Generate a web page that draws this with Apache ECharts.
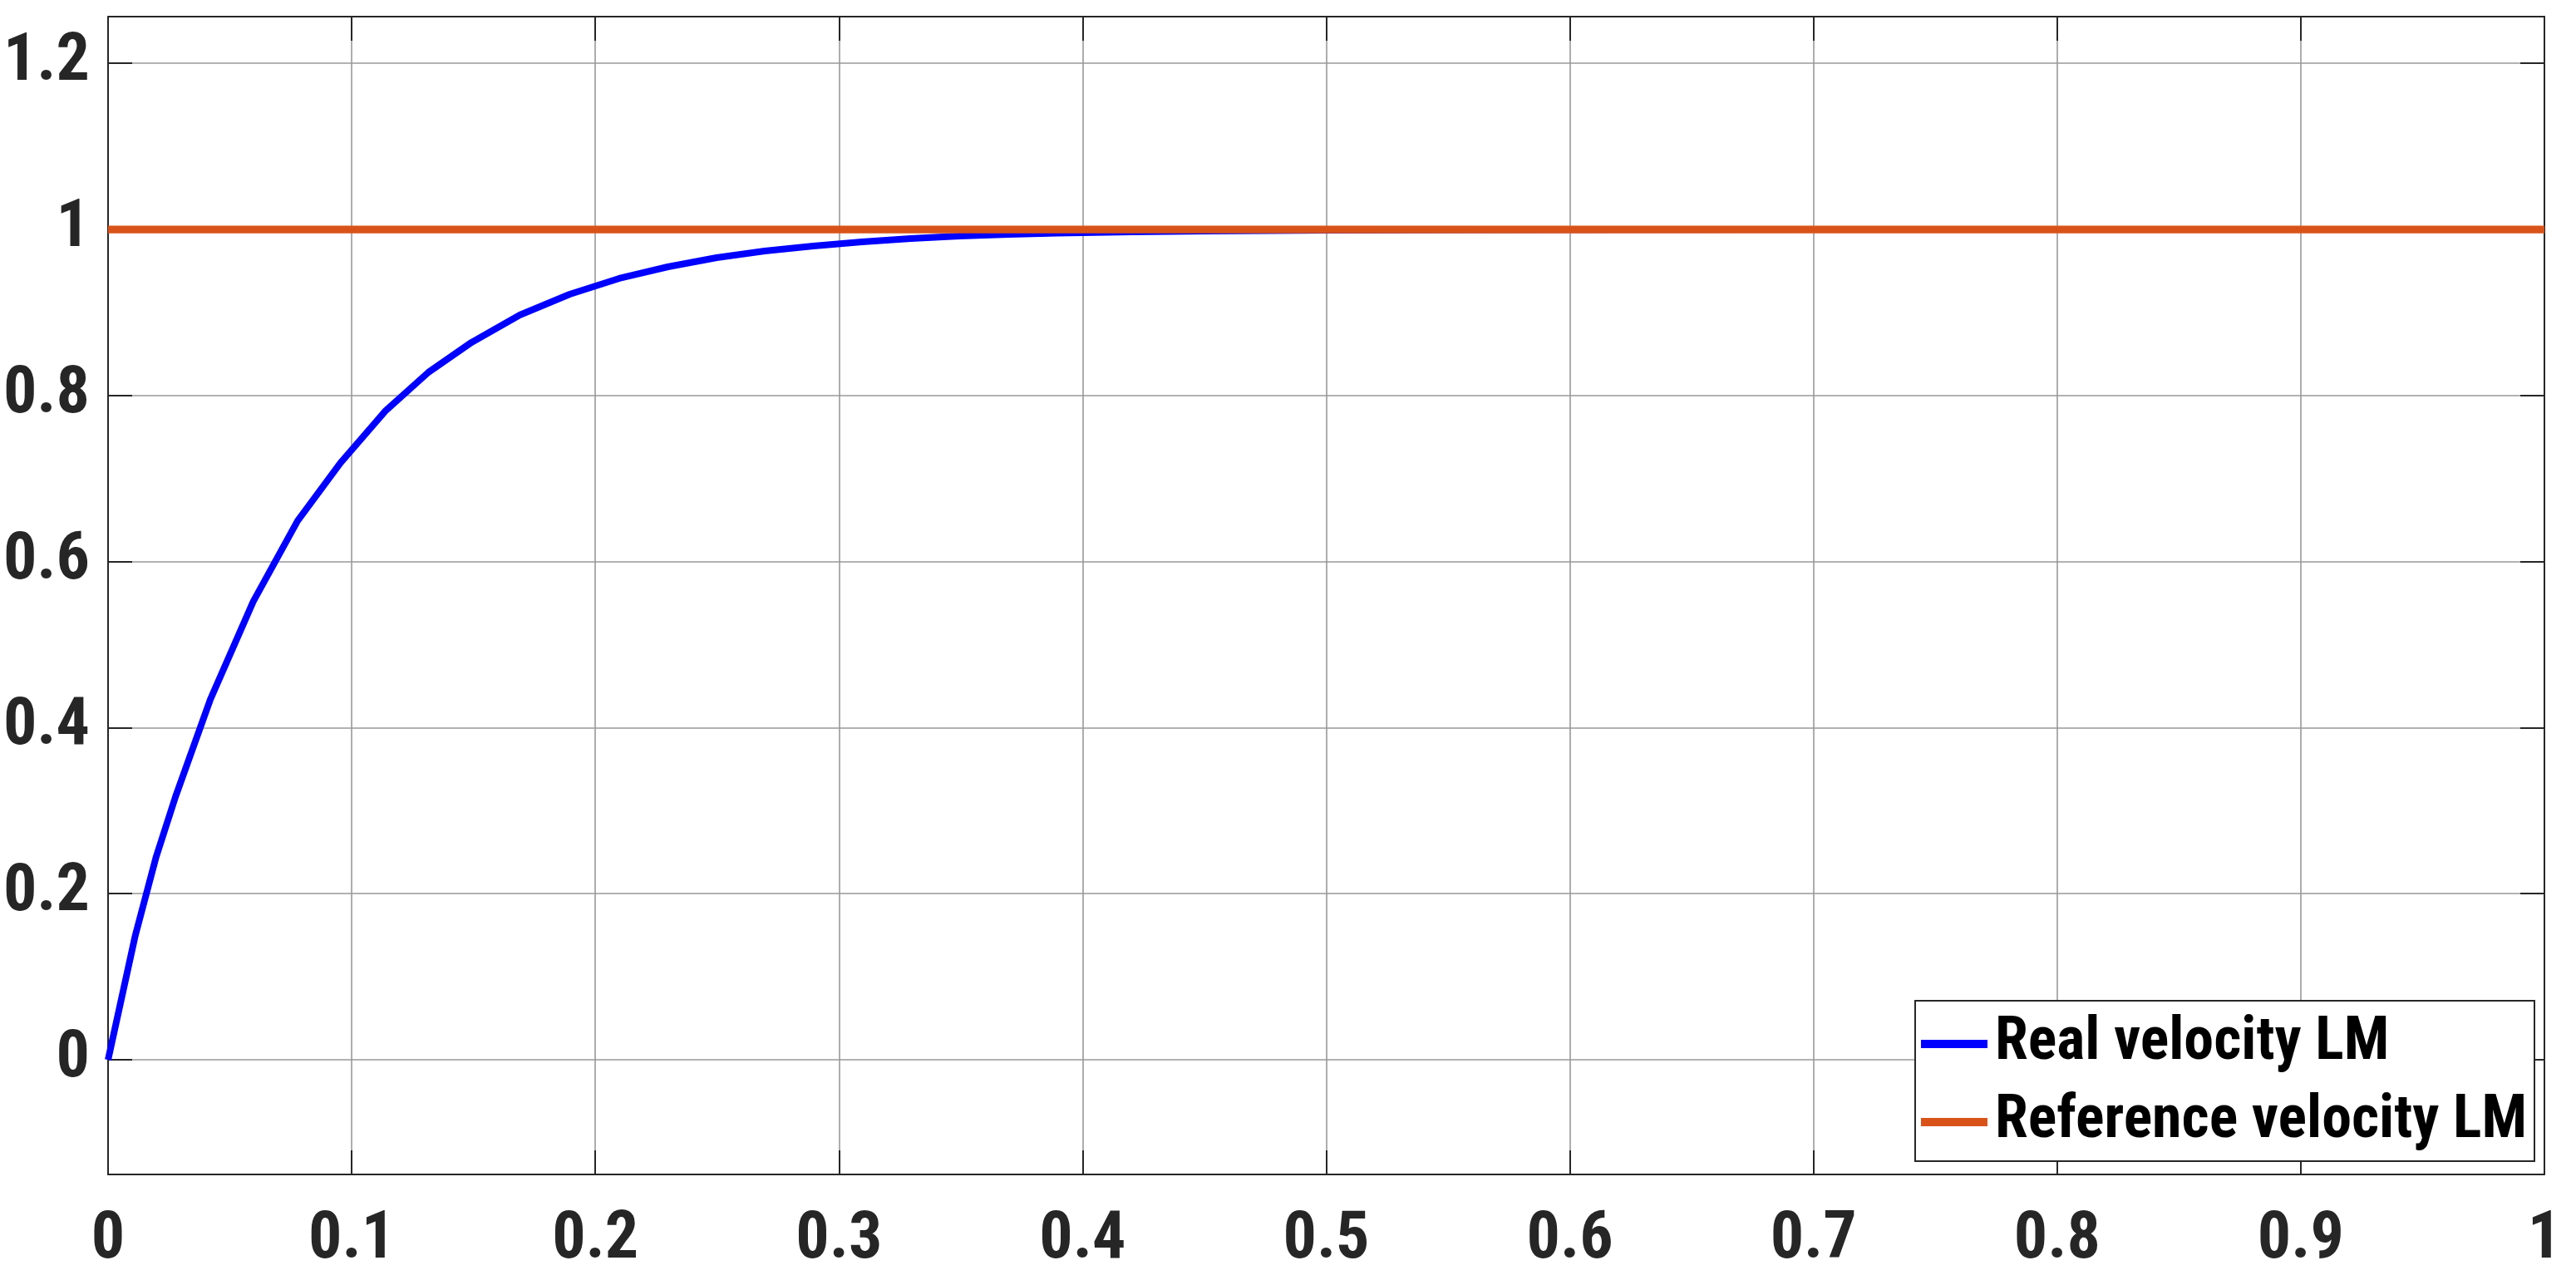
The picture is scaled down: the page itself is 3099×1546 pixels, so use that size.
<!DOCTYPE html>
<html>
<head>
<meta charset="utf-8">
<style>
html,body{margin:0;padding:0;background:#fff;}
#chart{width:3099px;height:1546px;}
</style>
<script src="https://cdn.jsdelivr.net/npm/echarts@6/dist/echarts.min.js"></script>
</head>
<body>
<div id="chart"></div>
<script>
// ---- data ----
const timeRealX = [0, 0.0112, 0.0197, 0.0277, 0.042, 0.0596, 0.0778, 0.0954, 0.1137, 0.1315, 0.1492, 0.169, 0.1895, 0.2098, 0.2298, 0.2498, 0.2695, 0.2895, 0.3095, 0.3295, 0.3495, 0.3695, 0.3895, 0.42, 0.45, 0.5, 0.55, 0.6, 0.7, 0.8, 0.9, 1.0];
const realVelocity = [0, 0.15, 0.244, 0.317, 0.434, 0.552, 0.649, 0.719, 0.781, 0.828, 0.864, 0.897, 0.922, 0.941, 0.955, 0.966, 0.974, 0.980, 0.985, 0.989, 0.992, 0.994, 0.9955, 0.997, 0.998, 0.999, 0.9995, 0.9998, 1.0, 1.0, 1.0, 1.0];
const timeRefX = [0, 1];
const refVelocity = [1, 1];
const yTicks = [0, 0.2, 0.4, 0.6, 0.8, 1.0, 1.2];
const seriesNames = ['Real velocity LM', 'Reference velocity LM'];

// pick a narrow bold font if one is installed
function fontAvailable(name) {
  const c = document.createElement('canvas').getContext('2d');
  const s = 'Reference velocity LM 0.123456789';
  c.font = 'bold 72px monospace';
  const w1 = c.measureText(s).width;
  c.font = "bold 72px '" + name + "', monospace";
  const w2 = c.measureText(s).width;
  return Math.abs(w1 - w2) > 0.5;
}
const narrowCandidates = ['Liberation Sans Narrow', 'Arial Narrow', 'Noto Sans Condensed', 'Roboto Condensed', 'Open Sans Condensed', 'Nimbus Sans Narrow'];
let narrow = null;
for (const f of narrowCandidates) { if (fontAvailable(f)) { narrow = f; break; } }
const FONT = narrow ? "'" + narrow + "', sans-serif" : "'DejaVu Sans Condensed', 'DejaVu Sans', sans-serif";
const tickFontSize = narrow ? 80 : 69;
const legendFontSize = narrow ? 72 : 58;

const DARK = '#262626';
const GRID = '#999999';
const fmt = v => String(+(+v).toFixed(2));

const realData = timeRealX.map((x, i) => [x, realVelocity[i]]);
const refData = timeRefX.map((x, i) => [x, refVelocity[i]]);

const chart = echarts.init(document.getElementById('chart'), null, {renderer: 'canvas'});

const xBase = {
  type: 'value', min: 0, max: 1, interval: 0.1,
  axisLine: {show: true, onZero: false, lineStyle: {color: DARK, width: 2}},
  axisTick: {show: true, inside: true, length: 29, lineStyle: {color: DARK, width: 2}}
};
const yBase = {
  type: 'value', min: -0.1381, max: 1.2563,
  axisLine: {show: true, onZero: false, lineStyle: {color: DARK, width: 2}},
  axisTick: {show: true, inside: true, length: 29, customValues: yTicks, lineStyle: {color: DARK, width: 2}}
};

chart.setOption({
  animation: false,
  backgroundColor: '#ffffff',
  grid: {left: 130, right: 38, top: 20, bottom: 133, containLabel: false},
  xAxis: [
    Object.assign({}, xBase, {
      position: 'bottom',
      axisLabel: {show: true, margin: 40, fontFamily: FONT, fontWeight: 'bold', fontSize: tickFontSize, color: DARK, formatter: fmt},
      splitLine: {show: true, lineStyle: {color: GRID, width: 1.6}}
    }),
    Object.assign({}, xBase, {
      position: 'top',
      axisLabel: {show: false},
      splitLine: {show: false}
    })
  ],
  yAxis: [
    Object.assign({}, yBase, {
      position: 'left',
      axisLabel: {show: true, margin: 22, customValues: yTicks, fontFamily: FONT, fontWeight: 'bold', fontSize: tickFontSize, color: DARK, formatter: fmt},
      splitLine: {show: true, lineStyle: {color: GRID, width: 1.6}}
    }),
    Object.assign({}, yBase, {
      position: 'right',
      axisLabel: {show: false},
      splitLine: {show: false}
    })
  ],
  legend: {
    show: true,
    orient: 'vertical',
    right: 50,
    bottom: 149,
    padding: [12, 9, 7, 7],
    itemGap: 14,
    itemWidth: 80,
    itemHeight: 10,
    icon: 'rect',
    backgroundColor: '#ffffff',
    borderColor: DARK,
    borderWidth: 2,
    borderRadius: 0,
    textStyle: {fontFamily: FONT, fontWeight: 'bold', fontSize: legendFontSize, lineHeight: 80, color: '#000000', padding: [0, 0, 0, 4]},
    data: seriesNames
  },
  series: [
    {
      name: seriesNames[0], type: 'line', data: realData,
      showSymbol: false, symbol: 'none', smooth: false,
      lineStyle: {color: '#0000ff', width: 8},
      itemStyle: {color: '#0000ff'},
      z: 3
    },
    {
      name: seriesNames[1], type: 'line', data: refData,
      showSymbol: false, symbol: 'none',
      lineStyle: {color: '#D95319', width: 9.3},
      itemStyle: {color: '#D95319'},
      z: 4
    }
  ]
});
</script>
</body>
</html>
